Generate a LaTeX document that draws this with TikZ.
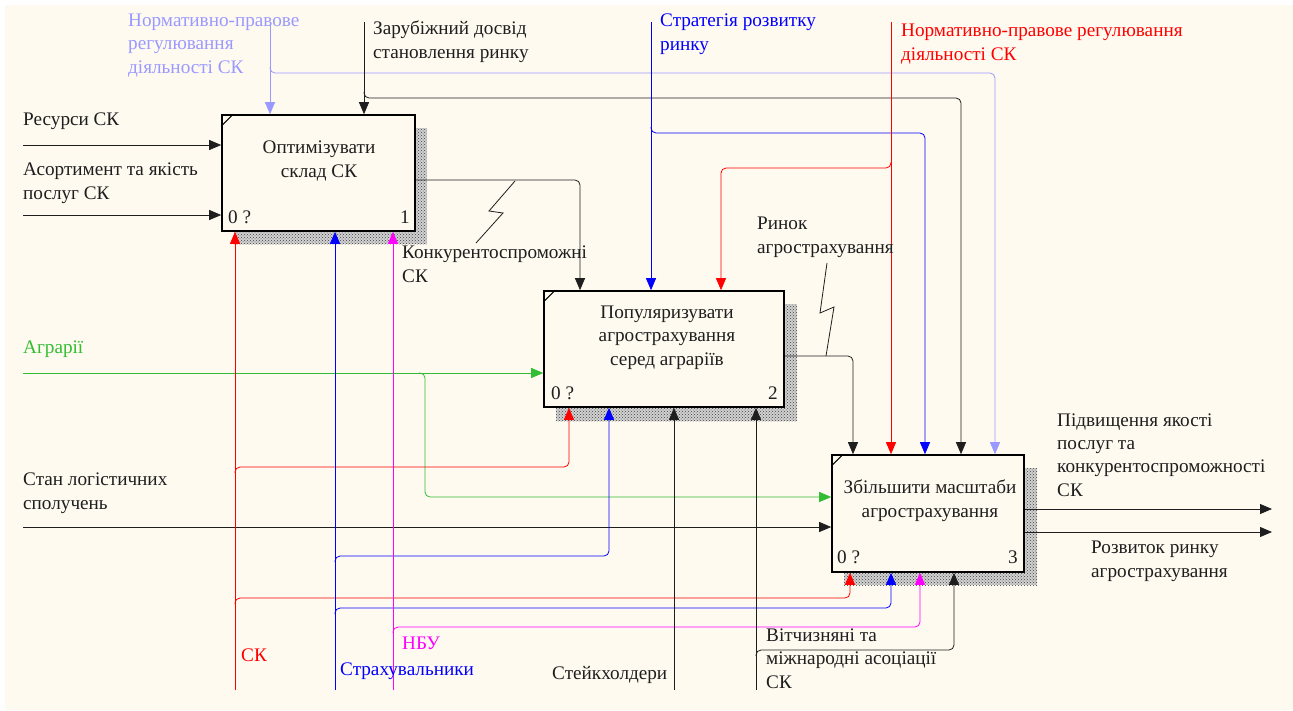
\documentclass[tikz,border=0pt]{standalone}
\usepackage{fontspec}
\setmainfont{Liberation Serif}
\usetikzlibrary{arrows.meta,patterns,calc}
\definecolor{bg}{RGB}{255,250,240}
\definecolor{lav}{RGB}{153,153,255}
\definecolor{grn}{RGB}{50,190,50}
\definecolor{blu}{RGB}{0,0,255}
\definecolor{mag}{RGB}{255,0,255}
\definecolor{rd}{RGB}{255,0,0}
\definecolor{ink}{RGB}{30,30,30}
\begin{document}
\begin{tikzpicture}[x=1pt,y=-1pt,
  every node/.style={font=\fontsize{19.2}{23.3}\selectfont, inner sep=0pt, text=ink},
  lbl/.style={anchor=base west, align=left},
  fbox/.style={draw=black, line width=1.6pt, fill=bg, rectangle, inner sep=0pt},
  shad/.style={pattern=crosshatch dots, pattern color=black!75},
  ln/.style={line width=0.8pt, draw=ink},
  ar/.style={line width=0.8pt, -{Triangle[length=12pt,width=10pt]}},
  rc/.style={rounded corners=5pt}
]
\useasboundingbox (0,0) rectangle (1293,710);
\fill[white] (0,0) rectangle (1293,710);
\fill[bg] (5,5) rectangle (1293,710);

% shadows
\fill[black!18] (234,128) rectangle (427,244);
\fill[black!18] (556,304) rectangle (797,421);
\fill[black!18] (844,468) rectangle (1037,585);
\fill[shad] (234,128) rectangle (427,244);
\fill[shad] (556,304) rectangle (797,421);
\fill[shad] (844,468) rectangle (1037,585);

% boxes
\node[fbox, minimum width=193pt, minimum height=116pt] (b1) at (318.5,173) {};
\node[fbox, minimum width=240pt, minimum height=116pt] (b2) at (664,349) {};
\node[fbox, minimum width=192pt, minimum height=117pt] (b3) at (928,513.5) {};
\foreach \b in {b1,b2,b3}{
  \draw[line width=1pt] ($(\b.north west)+(0,12)$) -- ($(\b.north west)+(12,0)$);
}

% box texts (base = last line)
\node[anchor=base, align=center] (t1) at (319,177) {Оптимізувати\\склад СК};
\node[anchor=base, align=center] (t2) at (667,365) {Популяризувати\\агрострахування\\серед аграріїв};
\node[anchor=base, align=center] (t3) at (930,517) {Збільшити масштаби\\агрострахування};
\node[anchor=base west] (z1) at (228,223) {0 ?};
\node[anchor=base east] (n1) at (410,223) {1};
\node[anchor=base west] (z2) at (551,399) {0 ?};
\node[anchor=base east] (n2) at (778,399) {2};
\node[anchor=base west] (z3) at (837,563) {0 ?};
\node[anchor=base east] (n3) at (1018,563) {3};

% coordinates
\coordinate (inRes) at (23,145);
\coordinate (inAs) at (23,215);
\coordinate (inAg) at (23,373);
\coordinate (inSt) at (23,527);
\coordinate (gA) at (425,497);
\coordinate (lavT) at (270,22);
\coordinate (lavB) at (995,73);
\coordinate (zT) at (364,22);
\coordinate (zB) at (961,98);
\coordinate (sT) at (651,22);
\coordinate (sB) at (925,133);
\coordinate (rT) at (891,22);
\coordinate (rB) at (721,168);
\coordinate (o1c) at (580,180);
\coordinate (o2c) at (853,356);
\coordinate (out1) at (1272,509);
\coordinate (out2) at (1272,532);
\coordinate (skB) at (235,690);
\coordinate (skA) at (569,467);
\coordinate (skC) at (850,598);
\coordinate (stB) at (335,690);
\coordinate (stA) at (609,556);
\coordinate (stC) at (891,608);
\coordinate (nbB) at (393,690);
\coordinate (nbC) at (920,627);
\coordinate (khB) at (674,690);
\coordinate (asB) at (756,690);
\coordinate (asC) at (954,650);

% inputs
\draw[ar,draw=ink] (inRes) -- (inRes -| b1.west);
\draw[ar,draw=ink] (inAs) -- (inAs -| b1.west);
\draw[ar,grn] (inAg) -- (inAg -| b2.west);
\draw[ar,grn,rc] (419,373) -- (gA |- inAg) -- (gA) -- (gA -| b3.west);
\draw[ar,draw=ink] (inSt) -- (inSt -| b3.west);

% controls
\draw[ar,lav] (lavT) -- (lavT |- b1.north);
\draw[ar,lav,rc] (270,67) -- (lavT |- lavB) -- (lavB) -- (lavB |- b3.north);
\draw[ar,draw=ink] (zT) -- (zT |- b1.north);
\draw[ar,draw=ink,rc] (364,92) -- (zT |- zB) -- (zB) -- (zB |- b3.north);
\draw[ar,blu] (sT) -- (sT |- b2.north);
\draw[ar,blu,rc] (651,127) -- (sT |- sB) -- (sB) -- (sB |- b3.north);
\draw[ar,rd] (rT) -- (rT |- b3.north);
\draw[ar,rd,rc] (891,162) -- (rT |- rB) -- (rB) -- (rB |- b2.north);

% outputs
\draw[ar,draw=ink,rc] (o1c -| b1.east) -- (o1c) -- (o1c |- b2.north);
\draw[ar,draw=ink,rc] (o2c -| b2.east) -- (o2c) -- (o2c |- b3.north);
\draw[ar,draw=ink] (out1 -| b3.east) -- (out1);
\draw[ar,draw=ink] (out2 -| b3.east) -- (out2);

% mechanisms
\draw[ar,rd] (skB) -- (skB |- b1.south);
\draw[ar,rd,rc] (235,473) -- (skB |- skA) -- (skA) -- (skA |- b2.south);
\draw[ar,rd,rc] (235,604) -- (skB |- skC) -- (skC) -- (skC |- b3.south);
\draw[ar,blu] (stB) -- (stB |- b1.south);
\draw[ar,blu,rc] (335,562) -- (stB |- stA) -- (stA) -- (stA |- b2.south);
\draw[ar,blu,rc] (335,614) -- (stB |- stC) -- (stC) -- (stC |- b3.south);
\draw[ar,mag] (nbB) -- (nbB |- b1.south);
\draw[ar,mag,rc] (393,633) -- (nbB |- nbC) -- (nbC) -- (nbC |- b3.south);
\draw[ar,draw=ink] (khB) -- (khB |- b2.south);
\draw[ar,draw=ink] (asB) -- (asB |- b2.south);
\draw[ar,draw=ink,rc] (756,656) -- (asB |- asC) -- (asC) -- (asC |- b3.south);

% squiggles
\coordinate (sq1a) at (476,243);
\coordinate (sq1b) at (515,181);
\draw[ln] (sq1a) -- (503,213) -- (489,211) -- (sq1b);
\coordinate (sq2a) at (827,263);
\coordinate (sq2b) at (826,356);
\draw[ln] (sq2a) -- (820,313) -- (834,307) -- (sq2b);

% labels (base = last line)
\node[lbl, text=lav] (Llav) at (128,73) {Нормативно-правове\\регулювання\\діяльності СК};
\node[lbl] (Lz) at (373,58) {Зарубіжний досвід\\становлення ринку};
\node[lbl, text=blu] (Ls) at (660,50) {Стратегія розвитку\\ринку};
\node[lbl, text=rd] (Lr) at (901,60) {Нормативно-правове регулювання\\діяльності СК};
\node[lbl] (Lres) at (23,125) {Ресурси СК};
\node[lbl] (Las) at (23,199) {Асортимент та якість\\послуг СК};
\node[lbl] (Lk) at (402,282) {Конкурентоспроможні\\СК};
\node[lbl, text=grn] (Lag) at (23,353) {Аграрії};
\node[lbl] (Lst) at (23,509) {Стан логістичних\\сполучень};
\node[lbl] (Lrn) at (757,253) {Ринок\\агрострахування};
\node[lbl, text=rd] (Lsk) at (241,661) {СК};
\node[lbl, text=blu] (Lstr) at (340,675) {Страхувальники};
\node[lbl, text=mag] (Lnb) at (402,649) {НБУ};
\node[lbl] (Lkh) at (552,679) {Стейкхолдери};
\node[lbl] (Las2) at (766,688) {Вітчизняні та\\міжнародні асоціації\\СК};
\node[lbl] (Lp) at (1057,496) {Підвищення якості\\послуг та\\конкурентоспроможності\\СК};
\node[lbl] (Lrz) at (1091,577) {Розвиток ринку\\агрострахування};
\end{tikzpicture}
\end{document}
